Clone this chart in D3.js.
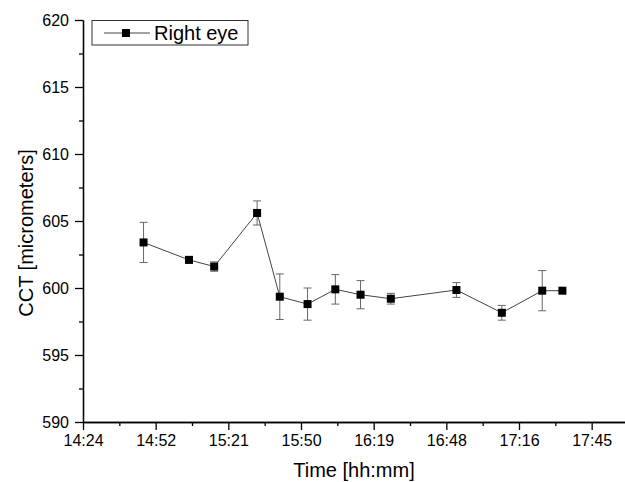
<!DOCTYPE html>
<html>
<head>
<meta charset="utf-8">
<script src="https://cdn.jsdelivr.net/npm/d3@7"></script>
<style>
  html, body { margin: 0; padding: 0; background: #fff; }
  svg { display: block; font-family: "Liberation Sans", Arial, sans-serif; }
</style>
</head>
<body>
<svg id="chart" width="625" height="482"></svg>
<script>
// Measurement times (hh:mm), central corneal thickness and its deviation
const times = ["14:48", "15:06", "15:16", "15:33", "15:42", "15:53", "16:04",
               "16:14", "16:26", "16:52", "17:10", "17:26", "17:34"];
const cct   = [603.4, 602.1, 601.6, 605.6, 599.35, 598.8, 599.9,
               599.5, 599.2, 599.85, 598.15, 599.8, 599.8];
const sd    = [1.5, 0.25, 0.35, 0.9, 1.7, 1.2, 1.1,
               1.05, 0.4, 0.55, 0.55, 1.5, 0];

// Axis ticks: time expressed as a fraction of the day
const xTickValues = [0.60, 0.62, 0.64, 0.66, 0.68, 0.70, 0.72, 0.74];
const xTickLabels = ["14:24", "14:52", "15:21", "15:50", "16:19", "16:48", "17:16", "17:45"];
const xMinorValues = [0.61, 0.63, 0.65, 0.67, 0.69, 0.71, 0.73];
const yTickValues = [590, 595, 600, 605, 610, 615, 620];
const yMinorValues = [592.5, 597.5, 602.5, 607.5, 612.5, 617.5];
const seriesName = "Right eye";

const dayFrac = s => { const [h, m] = s.split(":").map(Number); return (h * 60 + m) / 1440; };
const data = times.map((t, i) => ({ t: dayFrac(t), v: cct[i], e: sd[i] }));

const svg = d3.select("#chart");
const plotLeft = 83, plotRight = 628, plotTop = 20, plotBottom = 422;

const x = d3.scaleLinear().domain([0.60, 0.75]).range([plotLeft, plotRight]);
const y = d3.scaleLinear().domain([590, 620]).range([plotBottom, plotTop]);

// Axes
const xAxis = d3.axisBottom(x).tickValues(xTickValues)
  .tickFormat((d, i) => xTickLabels[i]).tickSize(8).tickPadding(5).tickSizeOuter(0);
const xMinor = d3.axisBottom(x).tickValues(xMinorValues).tickFormat("").tickSize(4).tickSizeOuter(0);
const yAxis = d3.axisLeft(y).tickValues(yTickValues).tickSize(8).tickPadding(6).tickSizeOuter(0);
const yMinor = d3.axisLeft(y).tickValues(yMinorValues).tickFormat("").tickSize(4).tickSizeOuter(0);

function styleAxis(g) {
  g.selectAll("path, line").attr("stroke", "#000").attr("stroke-width", 1.3);
  g.selectAll("text").attr("fill", "#000").style("font-size", "16px")
    .style("font-family", "'Liberation Sans', Arial, sans-serif");
}

svg.append("g").attr("transform", `translate(0,${plotBottom})`).call(xMinor).call(styleAxis);
svg.append("g").attr("transform", `translate(0,${plotBottom})`).call(xAxis).call(styleAxis);
svg.append("g").attr("transform", `translate(${plotLeft},0)`).call(yMinor).call(styleAxis);
svg.append("g").attr("transform", `translate(${plotLeft},0)`).call(yAxis).call(styleAxis);

// Axis titles
svg.append("text")
  .attr("x", (plotLeft + 625) / 2).attr("y", 477)
  .attr("text-anchor", "middle").style("font-size", "20px")
  .text("Time [hh:mm]");
svg.append("text")
  .attr("transform", "translate(33,233) rotate(-90)")
  .attr("text-anchor", "middle").style("font-size", "20px")
  .text("CCT [micrometers]");

// Connecting line
const line = d3.line().x(d => x(d.t)).y(d => y(d.v));
svg.append("path").datum(data)
  .attr("d", line).attr("fill", "none")
  .attr("stroke", "#444").attr("stroke-width", 1);

// Error bars
const capW = 4;
const eb = svg.append("g").attr("stroke", "#666").attr("stroke-width", 1)
  .selectAll("g").data(data.filter(d => d.e > 0)).join("g");
eb.append("line")
  .attr("x1", d => x(d.t)).attr("x2", d => x(d.t))
  .attr("y1", d => y(d.v + d.e)).attr("y2", d => y(d.v - d.e));
eb.append("line")
  .attr("x1", d => x(d.t) - capW).attr("x2", d => x(d.t) + capW)
  .attr("y1", d => y(d.v + d.e)).attr("y2", d => y(d.v + d.e));
eb.append("line")
  .attr("x1", d => x(d.t) - capW).attr("x2", d => x(d.t) + capW)
  .attr("y1", d => y(d.v - d.e)).attr("y2", d => y(d.v - d.e));

// Square markers
const ms = 8;
svg.append("g").selectAll("rect").data(data).join("rect")
  .attr("x", d => x(d.t) - ms / 2).attr("y", d => y(d.v) - ms / 2)
  .attr("width", ms).attr("height", ms).attr("fill", "#000");

// Legend
const lg = svg.append("g");
lg.append("rect").attr("x", 92).attr("y", 20.5).attr("width", 156).attr("height", 24.5)
  .attr("fill", "#fff").attr("stroke", "#333").attr("stroke-width", 1);
lg.append("line").attr("x1", 104).attr("x2", 150).attr("y1", 33).attr("y2", 33)
  .attr("stroke", "#444").attr("stroke-width", 1);
lg.append("rect").attr("x", 126 - ms / 2).attr("y", 33 - ms / 2)
  .attr("width", ms).attr("height", ms).attr("fill", "#000");
lg.append("text").attr("x", 154).attr("y", 40).style("font-size", "20px").text(seriesName);
</script>
</body>
</html>
